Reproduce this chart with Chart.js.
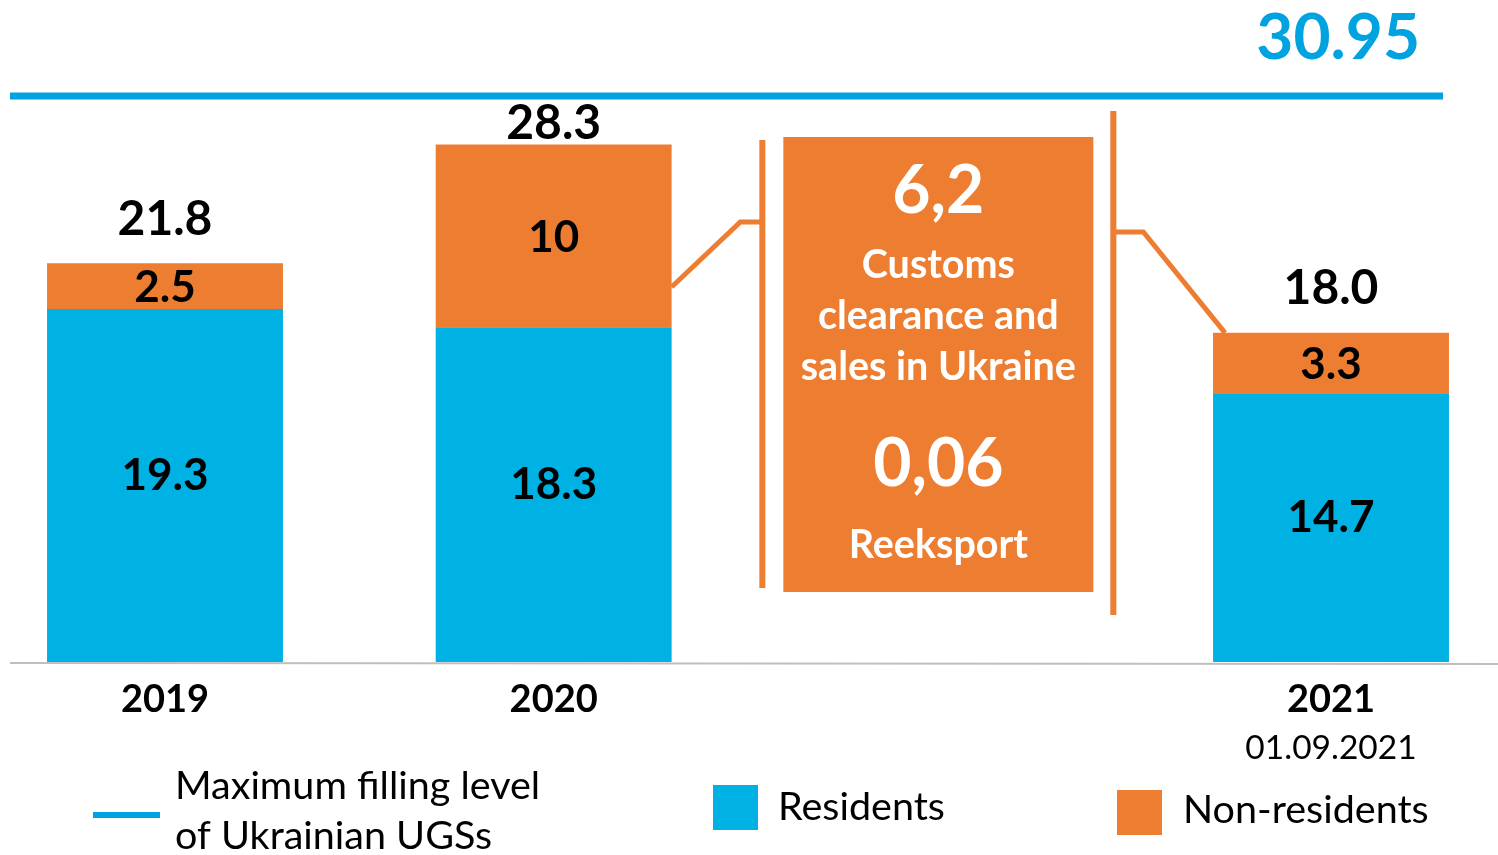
<!DOCTYPE html>
<html><head><meta charset="utf-8">
<script src="https://cdn.jsdelivr.net/npm/chart.js@4.4.1/dist/chart.umd.min.js"></script>
<style>html,body{margin:0;padding:0;background:#fff;overflow:hidden}#wrap{width:1498px;height:855px}</style>
</head><body><div id="wrap"><canvas id="c" width="1498" height="855"></canvas></div>
<script>
// ---- data ----
const categories = ['2019', '2020', '', '2021'];
const dateNotes = ['', '', '', '01.09.2021'];
const residents = [19.3, 18.3, null, 14.7];
const nonResidents = [2.5, 10, null, 3.3];
const totals = [21.8, 28.3, null, 18.0];
const maxFillingLevel = 30.95;
const customsValue = '6,2';
const customsLabel = ['Customs', 'clearance and', 'sales in Ukraine'];
const reexportValue = '0,06';
const reexportLabel = 'Reeksport';
const seriesNames = ['Residents', 'Non-residents'];
const maxLineLabel = ['Maximum filling level', 'of Ukrainian UGSs'];

// ---- style ----
const FONT = 'Lato, "Open Sans", sans-serif';
const BLUE = '#00B1E4', ORANGE = '#ED7D31', LINEBLUE = '#00A3E0';

const overlay = {
  id: 'overlay',
  afterDatasetsDraw(chart) {
    const { ctx, scales: { x, y } } = chart;
    ctx.save();
    // baseline
    const y0 = y.getPixelForValue(0);
    ctx.strokeStyle = '#BFBFBF'; ctx.lineWidth = 2;
    ctx.beginPath(); ctx.moveTo(10, y0 + 1); ctx.lineTo(1498, y0 + 2); ctx.stroke();

    // max filling line
    const ly = y.getPixelForValue(maxFillingLevel);
    ctx.fillStyle = LINEBLUE;
    ctx.fillRect(10, ly - 3.5, 1433, 7);
    ctx.font = '700 64px ' + FONT; ctx.textAlign = 'right'; ctx.textBaseline = 'middle';
    ctx.fillText(maxFillingLevel.toFixed(2), 1420, ly - 58);

    // labels on bars
    const mRes = chart.getDatasetMeta(0), mNon = chart.getDatasetMeta(1);
    ctx.textAlign = 'center'; ctx.fillStyle = '#000';
    for (let i = 0; i < categories.length; i++) {
      if (residents[i] == null) continue;
      const br = mRes.data[i], bn = mNon.data[i];
      ctx.font = '700 44px ' + FONT;
      ctx.fillText(String(residents[i]), br.x, (br.y + br.base) / 2 - 10);
      ctx.fillText(String(nonResidents[i]), bn.x, (bn.y + bn.base) / 2 + 2);
      ctx.font = '700 48px ' + FONT;
      let ty = bn.y - 44;
      if (ty - 20 < ly + 8) ty = ly + 28;
      ctx.fillText(totals[i].toFixed(1), bn.x, ty);
    }

    // callout box in the gap category
    const cx = x.getPixelForValue(2) - 4;
    const b2020 = mNon.data[1], b2021 = mNon.data[3];
    ctx.fillStyle = ORANGE;
    ctx.fillRect(cx - 155, 137, 310, 455);
    ctx.fillRect(cx - 179, 140, 6, 448);
    ctx.fillRect(cx + 172, 111, 6, 504);
    ctx.strokeStyle = ORANGE; ctx.lineWidth = 5; ctx.lineJoin = 'miter';
    ctx.beginPath();
    ctx.moveTo(b2020.x + b2020.width / 2, 287);
    ctx.lineTo(cx - 198, 222); ctx.lineTo(cx - 177, 222); ctx.stroke();
    ctx.beginPath();
    ctx.moveTo(cx + 176, 232); ctx.lineTo(cx + 205, 232);
    ctx.lineTo(b2021.x - b2021.width / 2 + 12, b2021.y); ctx.stroke();

    ctx.fillStyle = '#fff';
    ctx.font = '700 66px ' + FONT;
    ctx.fillText(customsValue, cx, 192);
    ctx.fillText(reexportValue, cx, 465);
    ctx.font = '700 39.5px ' + FONT;
    customsLabel.forEach((t, k) => ctx.fillText(t, cx, 265 + k * 51));
    ctx.fillText(reexportLabel, cx, 545);

    // legend
    ctx.textAlign = 'left';
    ctx.font = '400 39.5px ' + FONT;
    ctx.fillStyle = LINEBLUE; ctx.fillRect(93, 812, 67, 6);
    ctx.fillStyle = '#000';
    ctx.fillText(maxLineLabel[0], 175, 786);
    ctx.fillText(maxLineLabel[1], 175, 836);
    ctx.fillStyle = chart.data.datasets[0].backgroundColor; ctx.fillRect(713, 785, 45, 45);
    ctx.fillStyle = '#000'; ctx.fillText(chart.data.datasets[0].label, 778, 807);
    ctx.fillStyle = chart.data.datasets[1].backgroundColor; ctx.fillRect(1117, 790, 45, 45);
    ctx.fillStyle = '#000'; ctx.fillText(chart.data.datasets[1].label, 1183, 810);
    ctx.restore();
  }
};

new Chart(document.getElementById('c'), {
  type: 'bar',
  data: {
    labels: categories,
    datasets: [
      { label: seriesNames[0], data: residents, backgroundColor: BLUE, clip: false },
      { label: seriesNames[1], data: nonResidents, backgroundColor: ORANGE, clip: false }
    ]
  },
  options: {
    responsive: false, animation: false, devicePixelRatio: 1,
    layout: { padding: { left: 165, right: 167, top: 0, bottom: 0 } },
    datasets: { bar: { barPercentage: 0.607, categoryPercentage: 1 } },
    plugins: { legend: { display: false }, tooltip: { enabled: false } },
    scales: {
      x: {
        stacked: true, offset: false,
        grid: { display: false, drawTicks: false }, border: { display: false },
        ticks: { autoSkip: false, maxRotation: 0, padding: 15, color: '#000',
                 font: { family: FONT, size: 38, weight: '700', lineHeight: 1.2 } },
        afterFit: s => { s.height = 66; }
      },
      x2: {
        type: 'category', labels: dateNotes, position: 'bottom', offset: false,
        grid: { display: false, drawTicks: false }, border: { display: false },
        ticks: { autoSkip: false, maxRotation: 0, padding: 0, color: '#000',
                 font: { family: FONT, size: 33.5, weight: '400', lineHeight: 1.2 } },
        afterFit: s => { s.height = 127; }
      },
      y: { stacked: true, display: false, min: 0, max: 36.2 }
    }
  },
  plugins: [overlay]
});
</script></body></html>
